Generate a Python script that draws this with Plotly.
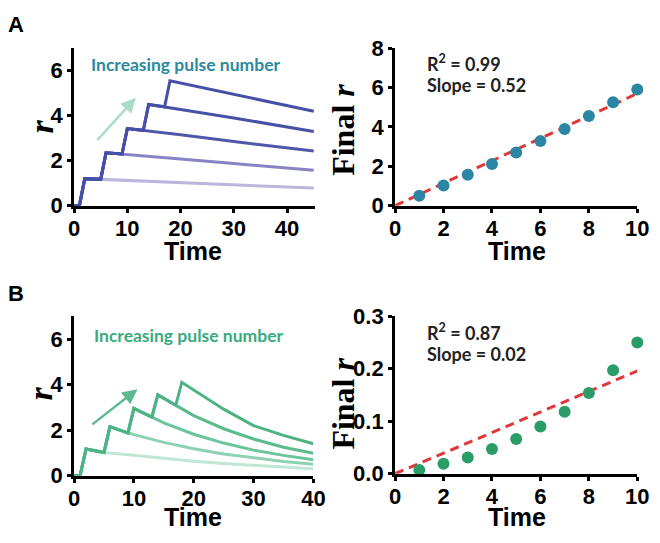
import plotly.graph_objects as go

W, H = 660, 543

# ---------------- data ----------------
# Panel A (left): r vs time for increasing pulse numbers (1..5 pulses)
a_t = [
    [0, 1, 2, 5, 10, 20, 30, 45],
    [0, 1, 2, 5, 6, 10, 20, 30, 45],
    [0, 1, 2, 5, 6, 9, 10, 13, 20, 30, 45],
    [0, 1, 2, 5, 6, 9, 10, 13, 14, 17, 20, 30, 45],
    [0, 1, 2, 5, 6, 9, 10, 13, 14, 17, 18, 20, 30, 45],
]
a_r = [
    [0, 0, 1.2, 1.17, 1.12, 1.03, 0.93, 0.78],
    [0, 0, 1.2, 1.17, 2.35, 2.28, 2.08, 1.87, 1.57],
    [0, 0, 1.2, 1.17, 2.35, 2.3, 3.43, 3.35, 3.15, 2.85, 2.43],
    [0, 0, 1.2, 1.17, 2.35, 2.3, 3.43, 3.35, 4.5, 4.4, 4.28, 3.9, 3.3],
    [0, 0, 1.2, 1.17, 2.35, 2.3, 3.43, 3.35, 4.5, 4.4, 5.55, 5.45, 4.95, 4.2],
]
a_colors = ["#bab6de", "#8783c4", "#4f57a9", "#4851a6", "#4650a6"]

# Panel A (right): final r vs pulse number
a_n = [1, 2, 3, 4, 5, 6, 7, 8, 9, 10]
a_final = [0.5, 1.02, 1.57, 2.12, 2.7, 3.28, 3.9, 4.56, 5.26, 5.9]
a_fit_x = [0, 10]
a_fit_y = [0, 5.7]

# Panel B (left)
b_t = [
    [0, 1, 2, 5, 10, 15, 20, 25, 30, 35, 40],
    [0, 1, 2, 5, 6, 9, 10, 15, 20, 25, 30, 35, 40],
    [0, 1, 2, 5, 6, 9, 10, 13, 15, 20, 25, 30, 35, 40],
    [0, 1, 2, 5, 6, 9, 10, 13, 14, 17, 20, 25, 30, 35, 40],
    [0, 1, 2, 5, 6, 9, 10, 13, 14, 17, 18, 25, 30, 35, 40],
]
b_r = [
    [0, 0, 1.17, 1.02, 0.9, 0.75, 0.63, 0.53, 0.45, 0.38, 0.3],
    [0, 0, 1.17, 1.02, 2.15, 1.87, 1.8, 1.46, 1.18, 0.95, 0.77, 0.62, 0.5],
    [0, 0, 1.17, 1.02, 2.15, 1.87, 2.95, 2.57, 2.32, 1.82, 1.43, 1.12, 0.89, 0.7],
    [0, 0, 1.17, 1.02, 2.15, 1.87, 2.95, 2.57, 3.55, 3.09, 2.64, 2.06, 1.61, 1.25, 0.98],
    [0, 0, 1.17, 1.02, 2.15, 1.87, 2.95, 2.57, 3.55, 3.09, 4.1, 2.92, 2.2, 1.77, 1.4],
]
b_colors = ["#c0e6d5", "#8fd2b3", "#6cc49c", "#5abb8e", "#4db384"]

# Panel B (right)
b_n = [1, 2, 3, 4, 5, 6, 7, 8, 9, 10]
b_final = [0.007, 0.019, 0.031, 0.047, 0.066, 0.09, 0.118, 0.154, 0.197, 0.25]
b_fit_x = [0, 10]
b_fit_y = [0, 0.196]

# ---------------- figure ----------------
fig = go.Figure()

for t, r, c in zip(a_t, a_r, a_colors):
    fig.add_trace(go.Scatter(x=t, y=r, mode="lines", line=dict(color=c, width=3),
                             xaxis="x", yaxis="y", showlegend=False))
fig.add_trace(go.Scatter(x=a_fit_x, y=a_fit_y, mode="lines",
                         line=dict(color="#e0373a", width=3, dash="9px,6px"),
                         xaxis="x2", yaxis="y2", showlegend=False))
fig.add_trace(go.Scatter(x=a_n, y=a_final, mode="markers",
                         marker=dict(color="#2b86a6", size=12), cliponaxis=False,
                         xaxis="x2", yaxis="y2", showlegend=False))

for t, r, c in zip(b_t, b_r, b_colors):
    fig.add_trace(go.Scatter(x=t, y=r, mode="lines", line=dict(color=c, width=3),
                             xaxis="x3", yaxis="y3", showlegend=False))
fig.add_trace(go.Scatter(x=b_fit_x, y=b_fit_y, mode="lines",
                         line=dict(color="#e0373a", width=3, dash="9px,6px"),
                         xaxis="x4", yaxis="y4", showlegend=False))
fig.add_trace(go.Scatter(x=b_n, y=b_final, mode="markers",
                         marker=dict(color="#2a9c68", size=12), cliponaxis=False,
                         xaxis="x4", yaxis="y4", showlegend=False))


def dom_x(a, b):
    return [a / W, b / W]


def dom_y(top, bottom):
    return [1 - bottom / H, 1 - top / H]


tickfont = dict(family="Liberation Sans", size=22, color="black", weight="bold")
ax_common = dict(showline=True, linewidth=3, linecolor="black", ticks="outside",
                 ticklen=4, tickwidth=3, tickcolor="black", showgrid=False,
                 zeroline=False, tickfont=tickfont, fixedrange=True)
xa_common = dict(ax_common, ticklabelstandoff=-3)

fig.update_layout(
    width=W, height=H, margin=dict(l=0, r=0, t=0, b=0),
    paper_bgcolor="white", plot_bgcolor="white",
    xaxis=dict(domain=dom_x(70, 318), range=[0, 45.3], tickvals=[0, 10, 20, 30, 40],
               anchor="y", **xa_common),
    yaxis=dict(domain=dom_y(38, 203), range=[0, 7], tickvals=[0, 2, 4, 6],
               anchor="x", **ax_common),
    xaxis2=dict(domain=dom_x(400, 649), range=[0, 10], tickvals=[0, 2, 4, 6, 8, 10],
                anchor="y2", **xa_common),
    yaxis2=dict(domain=dom_y(38, 203), range=[0, 8], tickvals=[0, 2, 4, 6, 8],
                anchor="x2", **ax_common),
    xaxis3=dict(domain=dom_x(70, 316), range=[0, 40], tickvals=[0, 10, 20, 30, 40],
                anchor="y3", **xa_common),
    yaxis3=dict(domain=dom_y(319, 486), range=[0, 7], tickvals=[0, 2, 4, 6],
                anchor="x3", **ax_common),
    xaxis4=dict(domain=dom_x(400, 649), range=[0, 10], tickvals=[0, 2, 4, 6, 8, 10],
                anchor="y4", **xa_common),
    yaxis4=dict(domain=dom_y(319, 484), range=[0, 0.3], tickvals=[0, 0.1, 0.2, 0.3],
                tickformat=".1f", anchor="x4", **ax_common),
)


def P(x, y):
    return x / W, 1 - y / H


anns = []


def txt(x, y, s, size, color="black", family="Liberation Sans", weight="bold",
        xanchor="center", angle=0, style="normal"):
    px, py = P(x, y)
    anns.append(dict(x=px, y=py, xref="paper", yref="paper", text=s, showarrow=False,
                     xanchor=xanchor, yanchor="middle", textangle=angle,
                     font=dict(family=family, size=size, color=color, weight=weight,
                               style=style)))


# panel letters
txt(10, 13, "A", 22)
txt(10, 295, "B", 22)

# axis titles
for xc, yc in [(192, 251), (525, 251), (192, 529), (525, 529)]:
    txt(xc, yc, "Time", 25)
txt(36, 120, "r", 34, family="Liberation Serif", style="italic", angle=-90)
txt(36, 400, "r", 34, family="Liberation Serif", style="italic", angle=-90)
txt(347, 124, "Final <i>r</i>", 32, family="Liberation Serif", angle=-90)
txt(347, 411, "Final <i>r</i>", 32, family="Liberation Serif", angle=-90)

# in-plot texts
txt(85, 55, "Increasing pulse number", 17.5, color="#2b8a9c", family="Lato", xanchor="left")
txt(88, 339, "Increasing pulse number", 17.5, color="#3aab7b", family="Lato", xanchor="left")
txt(431, 53, "R<sup>2</sup> = 0.99", 18, color="#222222", family="Lato", xanchor="left")
txt(431, 77, "Slope = 0.52", 18, color="#222222", family="Lato", xanchor="left")
txt(431, 335, "R<sup>2</sup> = 0.87", 18, color="#222222", family="Lato", xanchor="left")
txt(431, 359, "Slope = 0.02", 18, color="#222222", family="Lato", xanchor="left")

# arrows (in data coordinates)
anns.append(dict(x=11.6, y=4.8, ax=4.1, ay=2.85, xref="x", yref="y", axref="x", ayref="y",
                 text="", showarrow=True, arrowhead=2, arrowsize=1.2, arrowwidth=2.5,
                 arrowcolor="#a9ddc7"))
anns.append(dict(x=10.6, y=3.8, ax=2.8, ay=2.2, xref="x3", yref="y3", axref="x3", ayref="y3",
                 text="", showarrow=True, arrowhead=2, arrowsize=1.2, arrowwidth=2.5,
                 arrowcolor="#5cba8e"))

fig.update_layout(annotations=anns)
fig.write_html("out.html", config={"displayModeBar": False},
               post_script="document.body.style.margin='0';document.body.style.overflow='hidden';")
